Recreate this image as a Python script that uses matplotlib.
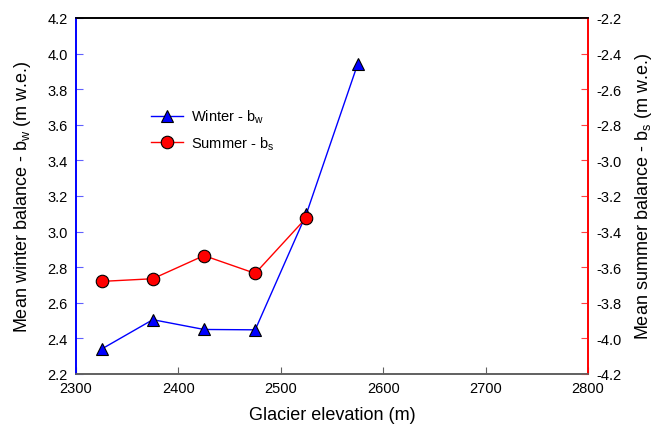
import matplotlib
matplotlib.use("Agg")
import matplotlib.pyplot as plt
from matplotlib.lines import Line2D

plt.rcParams["font.family"] = ["Liberation Sans", "DejaVu Sans"]

# data
elevation = [2325, 2375, 2425, 2475, 2525, 2575]
winter_bw = [2.34, 2.505, 2.45, 2.448, 3.10, 3.94]
summer_elev = [2325, 2375, 2425, 2475, 2525]
summer_bs = [-3.68, -3.665, -3.535, -3.635, -3.322]

x_ticks = [2300, 2400, 2500, 2600, 2700, 2800]
left_ticks = [2.2, 2.4, 2.6, 2.8, 3.0, 3.2, 3.4, 3.6, 3.8, 4.0, 4.2]
right_ticks = [-4.2, -4.0, -3.8, -3.6, -3.4, -3.2, -3.0, -2.8, -2.6, -2.4, -2.2]

fig = plt.figure(figsize=(6.61, 4.31), dpi=100)
ax = fig.add_axes([0.115, 0.130, 0.7746, 0.826])
ax2 = ax.twinx()

ax.plot(elevation, winter_bw, color="blue", lw=1, marker="^", ms=8,
        mfc="blue", mec="black", mew=0.8, zorder=3)
ax2.plot(summer_elev, summer_bs, color="red", lw=1, marker="o", ms=9,
         mfc="red", mec="black", mew=0.8, zorder=3)

ax.set_xlim(2300, 2800)
ax.set_ylim(2.2, 4.2)
ax2.set_ylim(-4.2, -2.2)
ax.set_xticks(x_ticks)
ax.set_yticks(left_ticks)
ax.set_yticklabels([f"{v:.1f}" for v in left_ticks])
ax2.set_yticks(right_ticks)
ax2.set_yticklabels([f"{v:.1f}" for v in right_ticks])

for a in (ax, ax2):
    a.spines["left"].set_color("blue")
    a.spines["right"].set_color("red")
    a.spines["bottom"].set_color("#606060")
    a.spines["top"].set_color("black")
    for s in a.spines.values():
        s.set_linewidth(1.2)

ax.tick_params(axis="y", direction="in", length=5, color="#6060ff", labelsize=10.5, pad=6)
ax.tick_params(axis="x", direction="in", length=5, color="#606060", labelsize=10.5, pad=5)
ax2.tick_params(axis="y", direction="in", length=5, color="#ff4040", labelsize=10.5, pad=6)

ax.set_xlabel("Glacier elevation (m)", fontsize=13, labelpad=8)
ax.set_ylabel("Mean winter balance - b$_\\mathregular{w}$ (m w.e.)", fontsize=13, labelpad=10)
ax2.set_ylabel("Mean summer balance - b$_\\mathregular{s}$ (m w.e.)", fontsize=13, labelpad=8)

handles = [
    Line2D([], [], color="blue", lw=1, marker="^", ms=8, mfc="blue", mec="black", mew=0.8),
    Line2D([], [], color="red", lw=1, marker="o", ms=9, mfc="red", mec="black", mew=0.8),
]
ax.legend(handles, ["Winter - b$_\\mathregular{w}$", "Summer - b$_\\mathregular{s}$"],
          loc="upper left", bbox_to_anchor=(0.12, 0.785), frameon=False,
          fontsize=10.5, handlelength=2.2, handletextpad=0.6, labelspacing=0.6)

fig.savefig("out.png", dpi=100)
